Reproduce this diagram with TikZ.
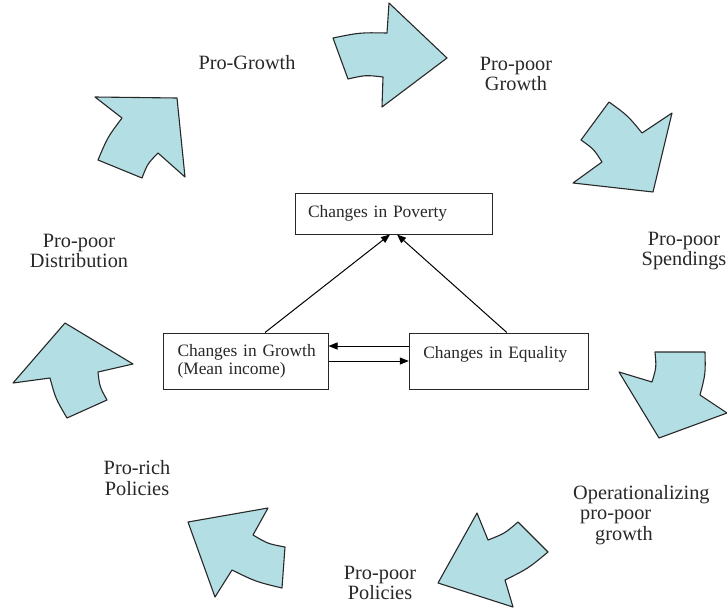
\documentclass[tikz,border=0pt]{standalone}
\usepackage{fontspec}
\setmainfont{Liberation Serif}
\usetikzlibrary{arrows.meta}
\definecolor{arrowfill}{RGB}{178,222,228}
\definecolor{inkgray}{RGB}{40,40,40}
\tikzset{
  blockarrow/.style={draw=inkgray, fill=arrowfill, line width=1.1pt, line join=round},
  lbl/.style={align=center, inner sep=0pt, text=inkgray, font=\fontsize{20.3}{20.5}\selectfont},
  box/.style={draw=inkgray, line width=1pt, align=left, inner xsep=0pt, inner ysep=0pt,
    text=inkgray, font=\fontsize{17.4}{18}\selectfont},
  conn/.style={draw=black, line width=1pt, -{Triangle[length=9pt,width=7pt]}}
}
\begin{document}
\begin{tikzpicture}[x=1pt,y=-1pt]
\useasboundingbox (0,0) rectangle (727,613);
\fill[white] (0,0) rectangle (727,613);

% block arrows
\draw[blockarrow] (333,38) .. controls (360,32.5) .. (387,33) -- (389,3) -- (447,58) -- (382,107) -- (383,77) .. controls (365.5,75) .. (348,79) -- cycle;
\draw[blockarrow] (609,102) .. controls (627.8,115.6) .. (642,133) -- (672,113) -- (653,192) -- (573,183) -- (602,162) .. controls (593.8,149.1) .. (581,140) -- cycle;
\draw[blockarrow] (655,352) -- (705,352) .. controls (705.5,373.9) .. (700,395) -- (727,413) -- (659,438) -- (619,372) -- (652,382) .. controls (656.4,367.4) .. cycle;
\draw[blockarrow] (477,513) -- (488,540) .. controls (504.6,533.5) .. (518,522) -- (548,552) .. controls (528.1,568.5) .. (505,580) -- (513,607) -- (438,583) -- cycle;
\draw[blockarrow] (188,522) -- (268,508) -- (253,535) .. controls (267.7,543.7) .. (285,547) -- (282,588) .. controls (255.8,581.7) .. (232,570) -- (215,597) -- cycle;
\draw[blockarrow] (65,323) -- (133,364) -- (98,372) .. controls (99.6,386.6) .. (107,400) -- (67,418) .. controls (55.6,398.6) .. (50,378) -- (13,383) -- cycle;
\draw[blockarrow] (95,97) -- (177,98) -- (185,177) -- (158,153) .. controls (147.6,163.7) .. (142,178) -- (98,160) .. controls (107.6,137.2) .. (122,118) -- cycle;

% outer labels
\node[lbl] (progrowth) at (247,63) {Pro-Growth};
\node[lbl] (pgrowth) at (516,74) {Pro-poor\\Growth};
\node[lbl] (pspend) at (684,251) {Pro-poor\\Spendings};
\node[lbl, align=left, anchor=north west] (oper) at (573,485) {Operationalizing\\\hspace*{7pt}pro-poor\\\hspace*{22pt}growth};
\node[lbl] (ppol) at (380,583) {Pro-poor\\Policies};
\node[lbl] (rpol) at (137,478) {Pro-rich\\Policies};
\node[lbl] (pdist) at (79,251) {Pro-poor\\Distribution};

% central boxes
\node[box, minimum width=197pt, minimum height=41pt, text width=171pt] (pov) at (393.5,213.5) {Changes in Poverty};
\node[box, minimum width=165pt, minimum height=56pt, text width=152pt] (grow) at (245.5,361) {\hspace*{8pt}Changes in Growth\\\hspace*{8pt}(Mean income)};
\node[box, minimum width=179pt, minimum height=56pt, text width=151pt] (eq) at (498.8,361) {Changes in Equality\\\mbox{}};

% connectors
\draw[conn] ([xshift=19.5pt]grow.north) -- ([xshift=-3.5pt]pov.south);
\draw[conn] ([xshift=8pt]eq.north) -- ([xshift=3.5pt]pov.south);
\draw[conn] ([yshift=15pt]eq.west) -- ([yshift=15pt]grow.east);
\draw[conn] (grow.east) -- (eq.west);
\end{tikzpicture}
\end{document}
